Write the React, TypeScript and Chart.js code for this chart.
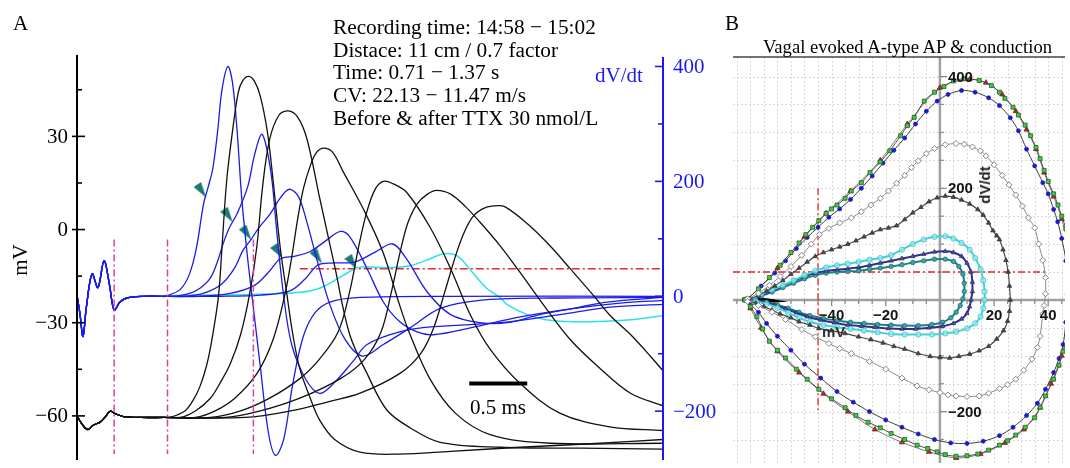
import React, { useEffect, useRef } from "react";
import { Chart, registerables } from "chart.js";

Chart.register(...registerables);

type Pt = [number, number];

// ================= Panel A =================
const timeRangeMs: Pt = [0, 5.05];
const mvRange: Pt = [-74.2, 56.2];
const dvdtRange: Pt = [-285, 420];

const mvMajorTicks = [30, 0, -30, -60];
const mvMajorLabels = ["30", "0", "−30", "−60"];
const mvMinorTicks = [45, 15, -15, -45];
const dvdtMajorTicks = [400, 200, 0, -200];
const dvdtMajorLabels = ["400", "200", "0", "−200"];
const dvdtMinorTicks = [300, 100, -100];

// membrane potential (ms, mV): stimulus artifact shared by all sweeps
const apArtifact: Pt[] = [
  [0, -60], [0.05, -63], [0.095, -64.4], [0.14, -63], [0.2, -62], [0.24, -60.5],
  [0.285, -58.5], [0.33, -59.3], [0.4, -60.2], [0.55, -60.5], [0.75, -60.5],
];
const ap1: Pt[] = [
  [0.8, -60.5], [0.93, -58.4], [1.0, -55], [1.06, -50.5], [1.12, -43.3], [1.17, -33.8],
  [1.22, -21.2], [1.25, -5.4], [1.29, 15.8], [1.34, 31.6], [1.39, 44.2], [1.43, 48],
  [1.48, 49.3], [1.53, 47.7], [1.58, 42.9], [1.64, 31.6], [1.69, 15.8], [1.75, -5.4],
  [1.81, -21.2], [1.86, -33.8], [1.92, -44.8], [2.01, -54.3], [2.09, -61.3], [2.22, -67.6],
  [2.44, -71.7], [2.78, -72.3], [3.22, -71.4], [3.82, -70.1], [4.51, -68.8], [5.05, -67.6],
];
const ap2: Pt[] = [
  [0.89, -60.5], [1.02, -58.4], [1.15, -54.3], [1.23, -49.6], [1.32, -43.3], [1.41, -33.8],
  [1.49, -20.2], [1.55, -5.4], [1.6, 14], [1.66, 29], [1.74, 36.8], [1.82, 38.2],
  [1.9, 36.3], [1.98, 29.4], [2.09, 10.4], [2.22, -11.7], [2.35, -33.8], [2.5, -46.4],
  [2.67, -58.1], [2.87, -63.8], [3.13, -68.5], [3.65, -70.1], [4.34, -70.4], [5.05, -70.7],
];
const ap3: Pt[] = [
  [1.02, -60.5], [1.19, -58.4], [1.36, -54.3], [1.55, -46.4], [1.69, -35.4], [1.79, -21.2],
  [1.85, -9], [1.9, 3], [1.95, 13], [2.01, 20.5], [2.06, 24.6], [2.12, 26.2], [2.2, 25],
  [2.29, 18.9], [2.48, 5.7], [2.64, -7.6], [2.78, -24.3], [2.87, -33.8], [3.04, -48],
  [3.26, -59.1], [3.56, -66], [4.08, -68.8], [5.05, -68.8],
];
const ap4: Pt[] = [
  [1.15, -60.5], [1.41, -58.4], [1.66, -54.3], [1.92, -48], [2.09, -41.7], [2.25, -33],
  [2.35, -20], [2.43, -5], [2.5, 6], [2.57, 13], [2.64, 15.5], [2.72, 14.8], [2.84, 12],
  [3.04, 0.9], [3.22, -12.6], [3.39, -27.5], [3.56, -38.5], [3.82, -49.6], [4.16, -59.1],
  [4.59, -63.5], [5.05, -64.7],
];
const ap5: Pt[] = [
  [1.28, -60.5], [1.58, -58.4], [1.92, -54.3], [2.27, -48], [2.48, -41.7], [2.62, -33],
  [2.71, -20], [2.78, -8], [2.85, 2], [2.93, 8.2], [3.02, 11.4], [3.1, 12.6],
  [3.22, 11.4], [3.35, 7.3], [3.47, 2.5], [3.65, -5.4], [3.82, -13.9], [3.99, -22.7],
  [4.25, -35.4], [4.51, -44.8], [4.77, -52.7], [5.05, -56.8],
];
const ap6: Pt[] = [
  [1.45, -60.5], [1.84, -58.4], [2.18, -55.3], [2.44, -52.7], [2.78, -46.4], [2.96, -40],
  [3.07, -32], [3.17, -20], [3.27, -7.6], [3.34, -0.6], [3.41, 4.1], [3.49, 6.6],
  [3.59, 7.6], [3.69, 7.3], [3.91, 0.9], [4.08, -5.4], [4.25, -12.6], [4.45, -21.2],
  [4.59, -27.5], [4.77, -33.8], [4.94, -40.7], [5.05, -45.5],
];

// dV/dt (ms, V/s)
const dvArtifact: Pt[] = [
  [0, 2], [0.025, -30], [0.052, -70], [0.08, -20], [0.13, 39], [0.18, 15], [0.233, 62],
  [0.28, 20], [0.32, -24], [0.37, -10], [0.43, -3], [0.57, 0], [0.72, 0],
];
const dv1: Pt[] = [
  [0.76, 0], [0.89, 12], [0.97, 39], [1.03, 85], [1.09, 160], [1.13, 190], [1.17, 222],
  [1.21, 284], [1.25, 360], [1.3, 400], [1.34, 372], [1.38, 287], [1.42, 170], [1.47, 67],
  [1.52, -20], [1.58, -123], [1.65, -238], [1.71, -277], [1.78, -250], [1.86, -152],
  [1.95, -70], [2.05, -29], [2.18, -10], [2.44, -2], [3.22, 0], [5.05, 0],
];
const dv2: Pt[] = [
  [0.84, 0], [0.97, 5], [1.06, 14], [1.15, 32], [1.21, 60], [1.26, 92], [1.31, 118],
  [1.38, 144], [1.47, 190], [1.53, 246], [1.59, 282], [1.63, 262], [1.68, 202], [1.72, 116],
  [1.78, 2], [1.85, -84], [1.97, -144], [2.09, -169], [2.21, -152], [2.38, -113], [2.5, -84],
  [2.78, -62], [3.07, -53], [3.65, -46], [4.16, -32], [4.59, -19], [5.05, -14],
];
const dv3: Pt[] = [
  [0.93, 0], [1.1, 6], [1.25, 22], [1.36, 50], [1.43, 80], [1.49, 96], [1.57, 120],
  [1.66, 142], [1.74, 168], [1.8, 183], [1.84, 186], [1.91, 173], [1.98, 130], [2.07, 62],
  [2.18, -15], [2.31, -75], [2.46, -104], [2.64, -84], [2.87, -55], [3.13, -21], [3.47, -7],
  [4.08, -3], [5.05, -2],
];
const dv4: Pt[] = [
  [1.06, 0], [1.32, 5], [1.53, 19], [1.66, 44], [1.75, 65], [1.88, 70], [2.01, 78],
  [2.14, 96], [2.27, 113], [2.35, 104], [2.5, 48], [2.64, -10], [2.78, -44], [2.93, -62],
  [3.07, -67], [3.39, -55], [3.82, -36], [4.25, -22], [4.68, -12], [5.05, -7],
];
const dv5: Pt[] = [
  [1.23, 0], [1.58, 2], [1.84, 10], [1.97, 31], [2.08, 55], [2.22, 58], [2.4, 60],
  [2.57, 77], [2.72, 91], [2.84, 65], [3.02, 7], [3.22, -32], [3.47, -46], [3.71, -46],
  [3.99, -32], [4.28, -21], [4.57, -10], [5.05, -2],
];
const dvTtx: Pt[] = [
  [0.76, 1], [1.06, 2], [1.49, 3], [1.92, 7], [2.09, 14], [2.29, 36], [2.42, 50], [2.5, 51],
  [2.7, 50], [2.87, 53], [3.04, 65], [3.16, 74], [3.28, 70], [3.41, 41], [3.53, 14],
  [3.65, -3], [3.71, -15], [3.88, -32], [4.04, -41], [4.22, -44], [4.48, -44], [4.77, -41],
  [5.05, -34],
];
// arrowheads (ms, V/s)
const arrowMarks: Pt[] = [
  [1.06, 185], [1.29, 142], [1.45, 111], [1.72, 79], [2.06, 70], [2.36, 60],
];
const stimLinesMs = [0.32, 0.78, 1.52];
const stimLineMv: Pt = [-3.2, -72.3];
const thresholdDvdt = 48;
const thresholdMs: Pt = [1.92, 5.05];
const scaleBarMs: Pt = [3.38, 3.88];
const scaleBarMv = -49.6;

// ================= Panel B =================
const phaseMvRange: Pt = [-76.4, 46.2];
const phaseDvRange: Pt = [-292, 435];
const phaseXLabels = [-40, -20, 20, 40];
const phaseYLabels = [400, 200, -200];
const phaseThresholdMv = -45;
const phaseThresholdDv = 50;

const loopGreen: Pt[] = [
  [-72, 0], [-71, 2], [-67, 20], [-63, 40], [-59, 62], [-55, 85], [-52, 102], [-49.5, 117],
  [-47, 130], [-44.7, 142], [-42, 155], [-40, 163], [-38, 170], [-35, 182], [-32.7, 195],
  [-29, 210], [-25.8, 228], [-22, 247], [-18.5, 267], [-14.5, 294], [-12, 312], [-9.5, 327],
  [-5.8, 356], [-2, 372], [1.5, 382], [5, 392], [9, 396], [14.5, 393], [19, 384], [22, 372],
  [24, 361], [27, 345], [29, 331], [31.5, 313], [33.5, 294], [35.5, 273], [37, 253],
  [38.5, 232], [40, 212], [42, 190], [43.6, 170], [45, 150], [46.5, 128], [48, 90], [49, 30],
  [48.5, -30], [47, -65], [45.5, -92], [44, -117], [42, -142], [39, -172], [37, -192],
  [35, -211], [31.5, -228], [28, -242], [25, -252], [22, -260], [18, -269], [14, -276],
  [10, -279], [6, -280], [2, -277], [-1, -272], [-4.5, -266], [-8.4, -260], [-13, -250],
  [-18, -239], [-22, -229], [-26.5, -219], [-31, -207], [-35, -193], [-40, -177],
  [-44.7, -160], [-49, -142], [-53, -124], [-57, -104], [-60, -90], [-63, -74], [-65.5, -52],
  [-67.6, -30], [-70, -12], [-72, 0],
];
const loopRed: Pt[] = [
  [-60, 57], [-50, 113], [-42, 155], [-33, 195], [-22, 250], [-12, 315], [0, 380], [11, 395],
  [17, 389], [23, 368], [28, 338], [32, 305], [35.5, 270], [38.5, 228], [42, 185], [45, 145],
  [47.5, 90], [48, 0], [47, -60], [45, -100], [41, -150], [37, -193], [31, -232], [24, -256],
  [15, -276], [6, -283], [-4, -272], [-14, -255], [-24, -232], [-34, -200], [-43, -168],
  [-52, -130], [-60, -92], [-66, -50], [-70, -15], [-72, 0],
];
const loopBlue: Pt[] = [
  [-72, 0], [-71, 2], [-66, 25], [-61, 48], [-57, 70], [-53, 92], [-49, 112], [-45, 130],
  [-41, 148], [-37, 163], [-33, 180], [-29, 200], [-25, 222], [-21, 245], [-17, 268],
  [-13, 290], [-9, 315], [-5, 338], [-1, 356], [3, 368], [8, 375], [13, 372], [18, 362],
  [22, 348], [26, 326], [29, 303], [32, 270], [35, 240], [38, 210], [40, 190], [42, 162],
  [43.5, 140], [45, 110], [46.5, 70], [47, 10], [46.5, -40], [45.5, -80], [44, -105],
  [42, -130], [39, -160], [36, -185], [32, -207], [27, -228], [22, -243], [16, -253],
  [10, -257], [4, -256], [-2, -250], [-8, -240], [-14, -228], [-20, -215], [-26, -200],
  [-32, -183], [-38, -164], [-44, -140], [-50, -115], [-55, -90], [-60, -65], [-64, -42],
  [-67, -22], [-70, -8], [-72, 0],
];
const loopGray: Pt[] = [
  [-71, 2], [-67, 12], [-63, 26], [-59, 42], [-55, 60], [-51, 80], [-47.5, 100], [-44.5, 117],
  [-41, 128], [-37, 138], [-32.7, 147], [-29, 158], [-25.5, 170], [-22, 182], [-19, 195],
  [-16, 209], [-13, 223], [-10.5, 237], [-8, 249], [-5, 262], [-2, 271], [2, 278], [6, 280],
  [9, 279], [12, 274], [15, 267], [17, 258], [20, 242], [23, 223], [25.5, 206], [28, 188],
  [30.5, 168], [32.7, 147], [35, 129], [36.5, 100], [38, 71], [39, 40], [39, 11], [38.5, -10],
  [38, -25], [37, -65], [36, -85], [34, -106], [31, -126], [28, -142], [25, -152], [22, -159],
  [18, -167], [14.5, -172], [10, -173], [6, -172], [3, -170], [0, -166], [-4, -161],
  [-8.4, -154], [-14, -140], [-20, -124], [-26, -110], [-32.7, -96], [-37, -87], [-41, -78],
  [-46, -66], [-51, -53], [-57, -35], [-62, -22], [-67, -10], [-71, -3],
];
const loopDark: Pt[] = [
  [-70, 2], [-67, 8], [-64, 16], [-61, 25], [-58, 35], [-55, 46], [-52, 57], [-49, 68],
  [-46, 78], [-43, 85], [-40, 90], [-37, 95], [-34, 100], [-31, 106], [-28, 113], [-25, 120],
  [-22, 126], [-19, 129], [-16, 133], [-13, 144], [-10, 156], [-7, 166], [-4, 176], [-1, 183],
  [2, 186], [5, 184], [8, 179], [11, 172], [14, 162], [16, 152], [18, 138], [19.6, 124],
  [21, 115], [22, 108], [23.3, 90], [24.4, 71], [25.2, 50], [25.7, 25], [26, 0], [25.7, -20],
  [25, -38], [23.5, -55], [21, -70], [18, -83], [14.5, -91], [11, -97], [7, -101],
  [3.6, -104], [0, -103], [-3.6, -101], [-8, -96], [-13, -88], [-17, -83], [-21, -77],
  [-25.5, -71], [-30, -66], [-35, -60], [-40, -55], [-44.7, -51], [-48, -45], [-52, -39],
  [-55, -32], [-59, -25], [-62, -18], [-65, -12], [-68, -6], [-71, -2],
];
const loopCyan: Pt[] = [
  [-70, 0], [-66, 10], [-62, 18], [-58, 26], [-54, 35], [-50, 44], [-46, 52], [-42, 58],
  [-38, 62], [-34, 65], [-30, 68], [-26, 72], [-22, 75], [-18, 80], [-14, 90], [-10, 100],
  [-6, 108], [-2, 113], [2, 114], [5, 110], [8, 102], [11, 90], [13, 75], [15, 55], [16, 35],
  [16.5, 15], [16.5, 0], [16, -15], [15, -30], [13, -42], [10, -51], [6, -57], [2, -60],
  [-3, -62], [-8, -62], [-13, -62], [-18, -61], [-23, -58], [-28, -55], [-33, -52],
  [-38, -49], [-43, -45], [-48, -39], [-52, -32], [-56, -23], [-60, -14], [-64, -7], [-68, -2],
];
const loopNavy: Pt[] = [
  [-70, 0], [-66, 8], [-62, 16], [-58, 25], [-54, 34], [-50, 42], [-46, 48], [-42, 52],
  [-38, 54], [-34, 56], [-30, 58], [-26, 62], [-22, 66], [-18, 70], [-14, 74], [-10, 78],
  [-6, 82], [-2, 86], [2, 87], [5, 85], [8, 78], [10, 66], [11.5, 50], [12, 32], [12, 15],
  [11.5, 0], [11, -12], [10, -24], [8, -34], [5, -42], [1, -47], [-4, -50], [-9, -52],
  [-14, -52], [-19, -51], [-24, -49], [-29, -47], [-34, -45], [-39, -41], [-44, -36],
  [-49, -30], [-53, -23], [-57, -16], [-61, -9], [-65, -4], [-68, -1],
];
const loopTeal: Pt[] = [
  [-70, 0], [-66, 7], [-62, 14], [-58, 22], [-54, 30], [-50, 38], [-46, 44], [-42, 48],
  [-38, 50], [-34, 51], [-30, 52], [-26, 55], [-22, 57], [-18, 60], [-14, 63], [-10, 67],
  [-6, 70], [-2, 73], [2, 73], [5, 69], [7, 60], [8.5, 46], [9, 30], [9, 15], [8.5, 2],
  [7.5, -10], [6, -22], [4, -32], [1, -40], [-3, -44], [-8, -46], [-13, -46], [-18, -45],
  [-23, -44], [-28, -42], [-33, -40], [-38, -37], [-43, -33], [-48, -28], [-52, -22],
  [-56, -15], [-60, -9], [-64, -4], [-68, -1],
];
const restCluster: Pt[] = [
  [-73, 1.5], [-69, -1.5], [-65, -3], [-61, -2], [-64, 0.5], [-69, 2], [-73, 1],
];

// ================= styling =================
const SERIF = '"Liberation Serif", "Times New Roman", serif';
const SANS = '"Liberation Sans", Arial, sans-serif';
const BLUE = "#1c1ce8";
const AXIS_BLUE = "#1a1af0";
const CYAN = "#2ee0e8";
const PINK = "#e0409a";
const RED = "#e02828";
const TEAL = "#1b7a75";

const toXY = (arr: Pt[]) => arr.map(([x, y]) => ({ x, y }));

const axesPluginA = {
  id: "axesA",
  afterDatasetsDraw(chart: any) {
    const { ctx, chartArea, scales } = chart;
    const ys = scales.y;
    const y2 = scales.y2;
    const lx = chartArea.left;
    const rx = chartArea.right;
    ctx.save();
    ctx.strokeStyle = "#000";
    ctx.lineWidth = 2;
    ctx.beginPath();
    ctx.moveTo(lx, chartArea.top);
    ctx.lineTo(lx, chartArea.bottom);
    ctx.stroke();
    ctx.lineWidth = 1.6;
    mvMajorTicks.forEach((v) => {
      const p = ys.getPixelForValue(v);
      ctx.beginPath();
      ctx.moveTo(lx - 5, p);
      ctx.lineTo(lx + 8, p);
      ctx.stroke();
    });
    mvMinorTicks.forEach((v) => {
      const p = ys.getPixelForValue(v);
      ctx.beginPath();
      ctx.moveTo(lx, p);
      ctx.lineTo(lx + 5, p);
      ctx.stroke();
    });
    ctx.fillStyle = "#000";
    ctx.font = `21px ${SERIF}`;
    ctx.textAlign = "right";
    ctx.textBaseline = "middle";
    mvMajorTicks.forEach((v, i) => {
      ctx.fillText(mvMajorLabels[i], lx - 9, ys.getPixelForValue(v) + 1);
    });
    ctx.strokeStyle = AXIS_BLUE;
    ctx.lineWidth = 2;
    ctx.beginPath();
    ctx.moveTo(rx, chartArea.top + 2);
    ctx.lineTo(rx, chartArea.bottom);
    ctx.stroke();
    ctx.lineWidth = 1.6;
    dvdtMajorTicks.forEach((v) => {
      const p = y2.getPixelForValue(v);
      ctx.beginPath();
      ctx.moveTo(rx - 8, p);
      ctx.lineTo(rx, p);
      ctx.stroke();
    });
    dvdtMinorTicks.forEach((v) => {
      const p = y2.getPixelForValue(v);
      ctx.beginPath();
      ctx.moveTo(rx - 5, p);
      ctx.lineTo(rx, p);
      ctx.stroke();
    });
    ctx.fillStyle = AXIS_BLUE;
    ctx.textAlign = "left";
    dvdtMajorTicks.forEach((v, i) => {
      ctx.fillText(dvdtMajorLabels[i], rx + 10, y2.getPixelForValue(v) + 1);
    });
    ctx.restore();
  },
};

const axesPluginB = {
  id: "axesB",
  beforeDatasetsDraw(chart: any) {
    const { ctx, chartArea, scales } = chart;
    const xs = scales.x;
    const ys = scales.y;
    ctx.save();
    ctx.strokeStyle = "#d9d9d9";
    ctx.lineWidth = 1;
    ctx.setLineDash([2, 2]);
    for (let v = Math.ceil(xs.min / 5) * 5; v <= xs.max; v += 5) {
      const p = Math.round(xs.getPixelForValue(v)) + 0.5;
      ctx.beginPath();
      ctx.moveTo(p, chartArea.top);
      ctx.lineTo(p, chartArea.bottom);
      ctx.stroke();
    }
    for (let v = Math.ceil(ys.min / 50) * 50; v <= ys.max; v += 50) {
      const p = Math.round(ys.getPixelForValue(v)) + 0.5;
      ctx.beginPath();
      ctx.moveTo(chartArea.left, p);
      ctx.lineTo(chartArea.right, p);
      ctx.stroke();
    }
    ctx.setLineDash([]);
    const x0 = xs.getPixelForValue(0);
    const y0 = ys.getPixelForValue(0);
    ctx.strokeStyle = "#a0a0a0";
    ctx.lineWidth = 2.5;
    ctx.beginPath();
    ctx.moveTo(x0, chartArea.top);
    ctx.lineTo(x0, chartArea.bottom);
    ctx.moveTo(chartArea.left, y0);
    ctx.lineTo(chartArea.right, y0);
    ctx.stroke();
    ctx.lineWidth = 1.2;
    ctx.strokeStyle = "#888";
    for (let v = Math.ceil(ys.min / 50) * 50; v <= ys.max; v += 50) {
      if (v === 0) continue;
      const p = ys.getPixelForValue(v);
      const len = v % 200 === 0 ? 7 : 4;
      ctx.beginPath();
      ctx.moveTo(x0, p);
      ctx.lineTo(x0 + len, p);
      ctx.stroke();
    }
    for (let v = Math.ceil(xs.min / 5) * 5; v <= xs.max; v += 5) {
      if (v === 0) continue;
      const p = xs.getPixelForValue(v);
      const len = v % 20 === 0 ? 6 : 4;
      ctx.beginPath();
      ctx.moveTo(p, y0);
      ctx.lineTo(p, y0 + len);
      ctx.stroke();
    }
    ctx.strokeStyle = "#444";
    ctx.lineWidth = 1.5;
    ctx.beginPath();
    ctx.moveTo(chartArea.left, chartArea.top);
    ctx.lineTo(chartArea.right, chartArea.top);
    ctx.stroke();
    ctx.restore();
  },
  afterDatasetsDraw(chart: any) {
    const { ctx, scales } = chart;
    const xs = scales.x;
    const ys = scales.y;
    const x0 = xs.getPixelForValue(0);
    const y0 = ys.getPixelForValue(0);
    ctx.save();
    ctx.fillStyle = "#151515";
    ctx.font = `bold 15px ${SANS}`;
    ctx.textAlign = "left";
    ctx.textBaseline = "middle";
    phaseYLabels.forEach((v) => {
      ctx.fillText(v < 0 ? `−${-v}` : `${v}`, x0 + 8, ys.getPixelForValue(v) + 1);
    });
    ctx.textAlign = "center";
    ctx.textBaseline = "top";
    phaseXLabels.forEach((v) => {
      ctx.fillText(v < 0 ? `−${-v}` : `${v}`, xs.getPixelForValue(v), y0 + 8);
    });
    ctx.restore();
  },
};

export default function App() {
  const refA = useRef<HTMLCanvasElement>(null);
  const refB = useRef<HTMLCanvasElement>(null);

  useEffect(() => {
    const dart = document.createElement("canvas");
    dart.width = 13;
    dart.height = 16;
    const g = dart.getContext("2d")!;
    g.fillStyle = TEAL;
    g.beginPath();
    g.moveTo(0, 5);
    g.lineTo(7.5, 0);
    g.lineTo(12.5, 15.5);
    g.closePath();
    g.fill();

    const line = (data: Pt[], color: string, width: number, axis: string, extra: any = {}) => ({
      data: toXY(data),
      borderColor: color,
      backgroundColor: color,
      borderWidth: width,
      pointRadius: 0,
      yAxisID: axis,
      tension: 0.35,
      fill: false,
      ...extra,
    });

    const datasetsA: any[] = [];
    stimLinesMs.forEach((t) => {
      datasetsA.push(
        line([[t, stimLineMv[0]], [t, stimLineMv[1]]], PINK, 1.5, "y", {
          borderDash: [7, 3, 2, 3],
          tension: 0,
        })
      );
    });
    [ap1, ap2, ap3, ap4, ap5, ap6].forEach((ap) => {
      datasetsA.push(line([...apArtifact, ...ap], "#111", 1.3, "y"));
    });
    [dv1, dv2, dv3, dv4, dv5].forEach((dv) => {
      datasetsA.push(line([...dvArtifact, ...dv], BLUE, 1.3, "y2"));
    });
    datasetsA.push(line([...dvArtifact, ...dvTtx], CYAN, 1.5, "y2"));
    datasetsA.push(
      line([[thresholdMs[0], thresholdDvdt], [thresholdMs[1], thresholdDvdt]], RED, 1.5, "y2", {
        borderDash: [8, 3, 2, 3],
        tension: 0,
      })
    );
    datasetsA.push(
      line([[scaleBarMs[0], scaleBarMv], [scaleBarMs[1], scaleBarMv]], "#000", 4, "y", {
        tension: 0,
        borderCapStyle: "butt",
      })
    );
    datasetsA.push({
      data: toXY(arrowMarks),
      yAxisID: "y2",
      showLine: false,
      pointStyle: dart,
      pointRadius: 7,
      borderColor: TEAL,
      backgroundColor: TEAL,
    });

    const chartA = new Chart(refA.current!, {
      type: "line",
      data: { datasets: datasetsA },
      options: {
        animation: false,
        responsive: false,
        maintainAspectRatio: false,
        events: [],
        layout: { padding: { left: 77, right: 67, top: 55, bottom: 0 } },
        plugins: { legend: { display: false }, tooltip: { enabled: false } },
        scales: {
          x: { type: "linear", min: timeRangeMs[0], max: timeRangeMs[1], display: false },
          y: { type: "linear", min: mvRange[0], max: mvRange[1], display: false },
          y2: { type: "linear", min: dvdtRange[0], max: dvdtRange[1], display: false, position: "right" },
        },
      } as any,
      plugins: [axesPluginA],
    });

    const loop = (data: Pt[], lineColor: string, lineWidth: number, pt: any) => ({
      data: toXY(data),
      showLine: true,
      tension: 0.3,
      borderColor: lineColor,
      borderWidth: lineWidth,
      pointRadius: pt.radius,
      pointStyle: pt.style,
      pointBackgroundColor: pt.fill,
      pointBorderColor: pt.stroke,
      pointBorderWidth: pt.strokeWidth ?? 0.8,
    });

    const datasetsB: any[] = [
      loop(loopGray, "#8a8a8a", 1, { radius: 3, style: "rectRot", fill: "#ffffff", stroke: "#858585", strokeWidth: 1 }),
      loop(loopDark, "#4a4a4a", 1.2, { radius: 2.6, style: "triangle", fill: "#4a4a4a", stroke: "#333" }),
      loop(loopGreen, "#4a4a4a", 1, { radius: 2.8, style: "rect", fill: "#3ccc3c", stroke: "#2a5a2a" }),
      loop(loopRed, "#5a5a5a", 0.8, { radius: 3, style: "triangle", fill: "#b0302a", stroke: "#7a1f1a" }),
      loop(loopBlue, "#3a3a3a", 1, { radius: 2, style: "circle", fill: "#1a1acc", stroke: "#1a1acc" }),
      loop(loopCyan, "#45d0d8", 2, { radius: 2.6, style: "circle", fill: "rgba(150,235,240,0.7)", stroke: "#35c0c8" }),
      loop(loopNavy, "#303088", 2, { radius: 2.5, style: "triangle", fill: "#5555a8", stroke: "#28286e" }),
      loop(loopTeal, "#1f8080", 2, { radius: 2.2, style: "circle", fill: "#3aa5a5", stroke: "#1c7070" }),
      {
        data: toXY(restCluster),
        showLine: true,
        tension: 0,
        borderColor: "#000",
        borderWidth: 3,
        pointRadius: 0,
      },
      {
        data: toXY([[phaseThresholdMv, 200], [phaseThresholdMv, -200]]),
        showLine: true,
        borderColor: RED,
        borderWidth: 1.3,
        borderDash: [7, 3, 2, 3],
        pointRadius: 0,
      },
      {
        data: toXY([[phaseMvRange[0], phaseThresholdDv], [39, phaseThresholdDv]]),
        showLine: true,
        borderColor: RED,
        borderWidth: 1.3,
        borderDash: [7, 3, 2, 3],
        pointRadius: 0,
      },
    ];

    const chartB = new Chart(refB.current!, {
      type: "scatter",
      data: { datasets: datasetsB },
      options: {
        animation: false,
        responsive: false,
        maintainAspectRatio: false,
        events: [],
        layout: { padding: { left: 13, right: 0, top: 57, bottom: 0 } },
        plugins: { legend: { display: false }, tooltip: { enabled: false } },
        scales: {
          x: { type: "linear", min: phaseMvRange[0], max: phaseMvRange[1], display: false },
          y: { type: "linear", min: phaseDvRange[0], max: phaseDvRange[1], display: false },
        },
      } as any,
      plugins: [axesPluginB],
    });

    return () => {
      chartA.destroy();
      chartB.destroy();
    };
  }, []);

  const abs = (s: any) => ({ position: "absolute" as const, whiteSpace: "pre" as const, ...s });

  return (
    <div
      style={{
        position: "absolute",
        left: 0,
        top: 0,
        width: 1070,
        height: 468,
        overflow: "hidden",
        background: "#fff",
        fontFamily: SERIF,
        color: "#000",
      }}
    >
      <canvas ref={refA} width={730} height={468} style={{ position: "absolute", left: 0, top: 0, display: "block" }} />
      <canvas ref={refB} width={350} height={468} style={{ position: "absolute", left: 720, top: 0, display: "block" }} />

      <div style={abs({ left: 13, top: 11, fontSize: 21, lineHeight: "24px" })}>A</div>
      <div style={abs({ left: 333, top: 16, fontSize: 21.3, lineHeight: "22.7px" })}>
        {"Recording time: 14:58 − 15:02\nDistace: 11 cm / 0.7 factor\nTime: 0.71 − 1.37 s\nCV: 22.13 − 11.47 m/s\nBefore & after TTX 30 nmol/L"}
      </div>
      <div style={abs({ left: 595, top: 64, fontSize: 21, lineHeight: "22px", color: AXIS_BLUE })}>dV/dt</div>
      <div
        style={abs({
          left: 20,
          top: 260,
          fontSize: 21,
          lineHeight: "22px",
          transform: "translate(-50%, -50%) rotate(-90deg)",
        })}
      >
        mV
      </div>
      <div style={abs({ left: 470, top: 396, fontSize: 21, lineHeight: "22px" })}>0.5 ms</div>

      <div style={abs({ left: 725, top: 11, fontSize: 21, lineHeight: "24px" })}>B</div>
      <div style={abs({ left: 739, top: 36, width: 337, textAlign: "center", fontSize: 18.6, lineHeight: "22px" })}>
        Vagal evoked A-type AP &amp; conduction
      </div>
      <div style={abs({ left: 822, top: 323, fontSize: 15, lineHeight: "18px", fontWeight: "bold", fontFamily: SANS, color: "#333" })}>
        mV
      </div>
      <div
        style={abs({
          left: 985,
          top: 185,
          fontSize: 15,
          lineHeight: "18px",
          fontWeight: "bold",
          fontFamily: SANS,
          color: "#222",
          transform: "translate(-50%, -50%) rotate(-90deg)",
        })}
      >
        dV/dt
      </div>
    </div>
  );
}
